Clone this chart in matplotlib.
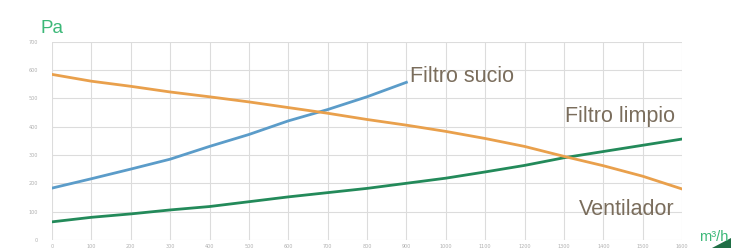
import matplotlib
matplotlib.use("Agg")
import matplotlib.pyplot as plt
import matplotlib.patches as mpatches
import numpy as np

# caudal (m3/h) and presion (Pa)
caudal = [0, 100, 200, 300, 400, 500, 600, 700, 800, 900, 1000, 1100, 1200, 1300, 1400, 1500, 1600]
ventilador = [584, 560, 542, 522, 505, 487, 467, 447, 425, 405, 383, 358, 330, 295, 262, 225, 180]
filtro_limpio = [64, 80, 92, 106, 118, 135, 152, 167, 182, 200, 218, 240, 263, 290, 312, 334, 356]
caudal_sucio = [0, 100, 200, 300, 400, 500, 600, 700, 800, 900]
filtro_sucio = [183, 216, 250, 285, 330, 372, 420, 460, 505, 556]
y_ticks = [0, 100, 200, 300, 400, 500, 600, 700]

ORANGE = "#e9a04c"
BLUE = "#5b9cc9"
GREEN = "#238a5a"
LABEL = "#7a6d5c"
AXIS_GREEN = "#3cb878"
GRID = "#dcdcdc"
FONT = ["Liberation Sans", "DejaVu Sans"]

fig = plt.figure(figsize=(7.31, 2.48), dpi=100, facecolor="white")
ax = fig.add_axes([52 / 731, 1 - 240 / 248, 630 / 731, 198.5 / 248])

ax.plot(caudal, filtro_limpio, color=GREEN, lw=2.0, zorder=3)
ax.plot(caudal, ventilador, color=ORANGE, lw=2.0, zorder=4)
ax.plot(caudal_sucio, filtro_sucio, color=BLUE, lw=2.0, zorder=3)

ax.set_xlim(0, 1600)
ax.set_ylim(0, 700)
ax.set_xticks(caudal)
ax.set_yticks(y_ticks)
ax.grid(True, color=GRID, lw=0.8)
for s in ax.spines.values():
    s.set_visible(False)
ax.tick_params(length=0, labelsize=3.5, colors="#b0b0b0", pad=10)
ax.tick_params(axis="x", pad=3)


def fig_xy(px, py):
    return px / 731, 1 - py / 248


ax_kw = dict(fontsize=15.5, color=LABEL, family=FONT, va="baseline")
fig.text(*fig_xy(410, 82), "Filtro sucio", ha="left", **ax_kw)
fig.text(*fig_xy(675, 122), "Filtro limpio", ha="right", **ax_kw)
fig.text(*fig_xy(675, 215), "Ventilador", ha="right", **ax_kw)
fig.text(*fig_xy(41, 33), "Pa", fontsize=13.5, color=AXIS_GREEN,
         family=FONT, ha="left", va="baseline")
fig.text(*fig_xy(699, 241), "m³/h", fontsize=10.5, color=AXIS_GREEN,
         family=FONT, ha="left", va="baseline")

# flecha del eje en la esquina
fig.patches.append(mpatches.Polygon([[712 / 731, 0.0], [1.0, 0.0], [1.0, 10 / 248]],
                                    closed=True, transform=fig.transFigure,
                                    facecolor="#1f6e45", edgecolor="none"))

fig.savefig("out.png", dpi=100, facecolor="white")
